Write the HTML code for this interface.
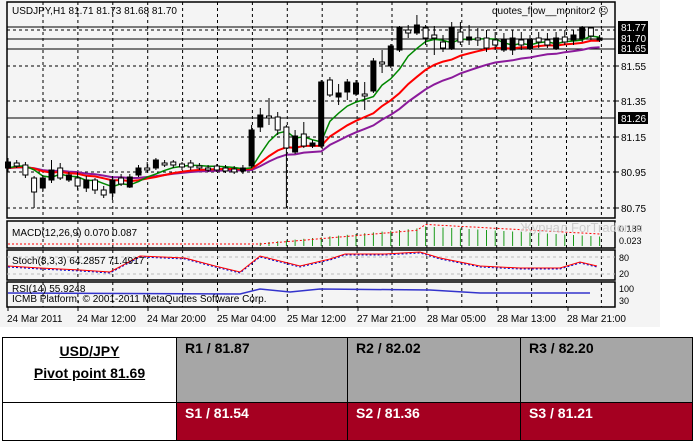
<!DOCTYPE html>
<html><head><meta charset="utf-8"><style>
body{margin:0;width:694px;height:444px;background:#fff;overflow:hidden;font-family:"Liberation Sans",sans-serif}
svg{position:absolute;left:0;top:0}
table{position:absolute;left:2px;top:337px;width:690px;table-layout:fixed;border-collapse:collapse;font-family:"Liberation Sans",sans-serif;font-weight:bold;font-size:14px}
td{border:1px solid #000;vertical-align:top;padding:2px 8px;overflow:hidden}
</style></head><body>
<svg id="s" width="694" height="330" xmlns="http://www.w3.org/2000/svg" font-family="Liberation Sans, sans-serif"></svg>
<table>
<colgroup><col style="width:174px"><col style="width:171px"><col style="width:173px"><col style="width:172px"></colgroup>
<tr style="height:65px"><td style="background:#fff;text-align:center;font-size:14px;line-height:22px"><u>USD/JPY</u><br><u>Pivot point 81.69</u></td>
<td style="background:#a6a6a6">R1 / 81.87</td><td style="background:#a6a6a6">R2 / 82.02</td><td style="background:#a6a6a6">R3 / 82.20</td></tr>
<tr style="height:38px"><td style="background:#fff"></td><td style="background:#a50021;color:#fff">S1 / 81.54</td><td style="background:#a50021;color:#fff">S2 / 81.36</td><td style="background:#a50021;color:#fff">S3 / 81.21</td></tr>
</table>
<script>
var s=document.getElementById('s');var h='';
h+='<rect x="0" y="0" width="660" height="327" fill="#f4f4f4"/>';
function pan(y1,y2){h+='<rect x="7" y="'+y1+'" width="608" height="'+(y2-y1)+'" fill="#f4f4f4" stroke="#000" stroke-width="1.5"/>';}
pan(2,218);pan(221,248);pan(250,280);pan(282,307);
for(var gx=43;gx<615;gx+=34.9){[[2,218],[221,248],[250,280],[282,307]].forEach(function(p){h+='<line x1="'+gx+'" y1="'+p[0]+'" x2="'+gx+'" y2="'+p[1]+'" stroke="#000" stroke-dasharray="3,3"/>';});}
[30,66,101,137,172,208].forEach(function(y){h+='<line x1="7" y1="'+y+'" x2="615" y2="'+y+'" stroke="#000" stroke-dasharray="3,3"/>';});
[27,39,49,118].forEach(function(y){h+='<line x1="7" y1="'+y+'" x2="615" y2="'+y+'" stroke="#000"/>';});
var d=[[162,168,158,172,0],[163,166,160,168,1],[165,175,162,178,1],[178,192,176,208,1],[178,188,175,192,0],[170,180,160,183,0],[168,178,163,180,1],[175,180,172,182,0],[178,186,172,190,1],[180,188,176,192,0],[180,190,178,194,1],[190,195,186,198,1],[180,193,176,200,0],[178,184,174,186,1],[177,187,174,188,0],[168,175,165,177,0],[168,170,162,172,1],[160,168,158,170,0],[163,165,160,167,1],[162,165,160,168,1],[164,167,162,170,1],[163,167,160,170,1],[166,168,163,170,1],[168,170,165,172,1],[166,170,164,172,1],[168,171,165,173,1],[169,172,166,174,1],[168,171,165,174,0],[130,166,125,168,0],[115,127,108,132,0],[116,118,98,125,1],[117,130,112,135,1],[127,148,125,208,1],[136,152,130,154,0],[134,146,122,148,1],[143,146,140,148,0],[82,146,80,148,0],[80,95,77,97,1],[93,97,84,105,0],[82,92,79,100,0],[83,94,80,96,0],[94,96,82,110,1],[61,91,58,93,0],[62,64,50,73,1],[46,66,44,68,0],[28,50,26,52,0],[30,33,25,38,1],[25,33,15,35,0],[28,38,25,45,1],[35,38,26,55,1],[42,48,35,52,1],[28,48,22,50,0],[32,42,22,45,1],[37,40,25,45,0],[38,40,28,46,1],[38,48,30,52,1],[40,45,32,50,1],[40,50,33,52,0],[38,50,30,55,0],[40,45,32,50,1],[40,48,35,50,0],[38,42,32,48,1],[40,45,33,48,1],[38,48,32,50,0],[37,42,30,45,1],[35,40,30,45,0],[28,38,26,42,0],[28,36,27,40,1],[38,40,35,42,0]];
function X(i){return 8+i*8.7;}
var cl=d.map(function(c){return c[4]?c[0]:c[1];});
function ema(n){var a=2/(n+1),e=cl[0],p=[];cl.forEach(function(c,i){e=e+(c-e)*a;p.push(X(i).toFixed(1)+','+e.toFixed(1));});return p.join(' ');}
h+='<polyline points="'+ema(21)+'" fill="none" stroke="#8b1a9b" stroke-width="2"/>';
h+='<polyline points="'+ema(13)+'" fill="none" stroke="#f00" stroke-width="2"/>';
h+='<polyline points="'+ema(5)+'" fill="none" stroke="#080" stroke-width="1.5"/>';
d.forEach(function(c,i){var x=X(i);h+='<line x1="'+x+'" y1="'+c[2]+'" x2="'+x+'" y2="'+c[3]+'" stroke="#000"/>';h+='<rect x="'+(x-2.5)+'" y="'+c[0]+'" width="5" height="'+Math.max(1,c[1]-c[0])+'" fill="'+(c[4]?'#fff':'#000')+'" stroke="#000"/>';});
var sig=[];for(var i=0;i<d.length;i++){var x=X(i);var v=Math.max(0,Math.min(1,(i-25)/25));if(i>47)v=1-(i-47)*0.025;var hh=v*20;if(i>28)h+='<line x1="'+x+'" y1="246" x2="'+x+'" y2="'+(246-hh).toFixed(1)+'" stroke="#1a9b1a"/>';sig.push(x.toFixed(1)+','+(245-Math.max(1,hh*0.95-(i<48?2:-2))).toFixed(1));}
h+='<polyline points="'+sig.join(' ')+'" fill="none" stroke="#f00" stroke-dasharray="2,2"/>';
h+='<text x="12" y="236" font-size="10">MACD(12,26,9) 0.070 0.087</text>';
h+='<line x1="7" y1="257" x2="615" y2="257" stroke="#bbb" stroke-dasharray="3,3"/><line x1="7" y1="274" x2="615" y2="274" stroke="#bbb" stroke-dasharray="3,3"/>';
var st=[[8,266],[40,268],[80,270],[110,272],[140,256],[185,258],[215,266],[240,272],[260,256],[300,266],[330,259],[345,254],[385,254],[420,252],[440,258],[480,266],[520,268],[560,268],[580,262],[597,266]];
function pl(a,dy){return a.map(function(p){return p[0]+','+(p[1]+dy);}).join(' ');}
h+='<polyline points="'+pl(st,1)+'" fill="none" stroke="#00c" stroke-dasharray="2,2"/>';
h+='<polyline points="'+pl(st,0)+'" fill="none" stroke="#f00"/>';
h+='<text x="12" y="264" font-size="10">Stoch(8,3,3) 64.2857 71.4917</text>';
h+='<polyline points="8,293 240,294 260,289 290,292 320,289 430,290 480,293 590,293" fill="none" stroke="#33c" stroke-width="1.5"/>';
h+='<text x="12" y="292" font-size="10">RSI(14) 55.9248</text><text x="12" y="302" font-size="10">ICMB Platform, © 2001-2011 MetaQuotes Software Corp.</text>';
h+='<text x="492" y="14" font-size="10">quotes_flow__monitor2 ☹</text>';
h+='<text x="12" y="14" font-size="10">USDJPY,H1  81.71 81.73 81.68 81.70</text>';
[['81.55',66],['81.35',101],['81.15',137],['80.95',172],['80.75',208]].forEach(function(t){h+='<line x1="615" y1="'+t[1]+'" x2="619" y2="'+t[1]+'" stroke="#000"/><text x="621" y="'+(t[1]+4)+'" font-size="10">'+t[0]+'</text>';});
[['81.77',27],['81.70',38],['81.65',48],['81.26',118]].forEach(function(t){h+='<rect x="618" y="'+(t[1]-6)+'" width="30" height="12" fill="#000"/><text x="621" y="'+(t[1]+4)+'" font-size="10" fill="#fff">'+t[0]+'</text>';});
h+='<text x="619" y="232" font-size="9">0.189</text><text x="619" y="244" font-size="9">0.023</text><text x="619" y="261" font-size="9">80</text><text x="619" y="277" font-size="9">20</text><text x="619" y="292" font-size="9">100</text><text x="619" y="304" font-size="9">30</text>';
h+='<text x="520" y="232" font-size="13" fill="#ccc">Журнал ForTrader.ru</text>';
['24 Mar 2011','24 Mar 12:00','24 Mar 20:00','25 Mar 04:00','25 Mar 12:00','27 Mar 21:00','28 Mar 05:00','28 Mar 13:00','28 Mar 21:00'].forEach(function(t,i){h+='<line x1="'+(8+i*70)+'" y1="307" x2="'+(8+i*70)+'" y2="311" stroke="#000"/><text x="'+(7+i*70)+'" y="322" font-size="10">'+t+'</text>';});
s.innerHTML=h;
</script>
</body></html>
